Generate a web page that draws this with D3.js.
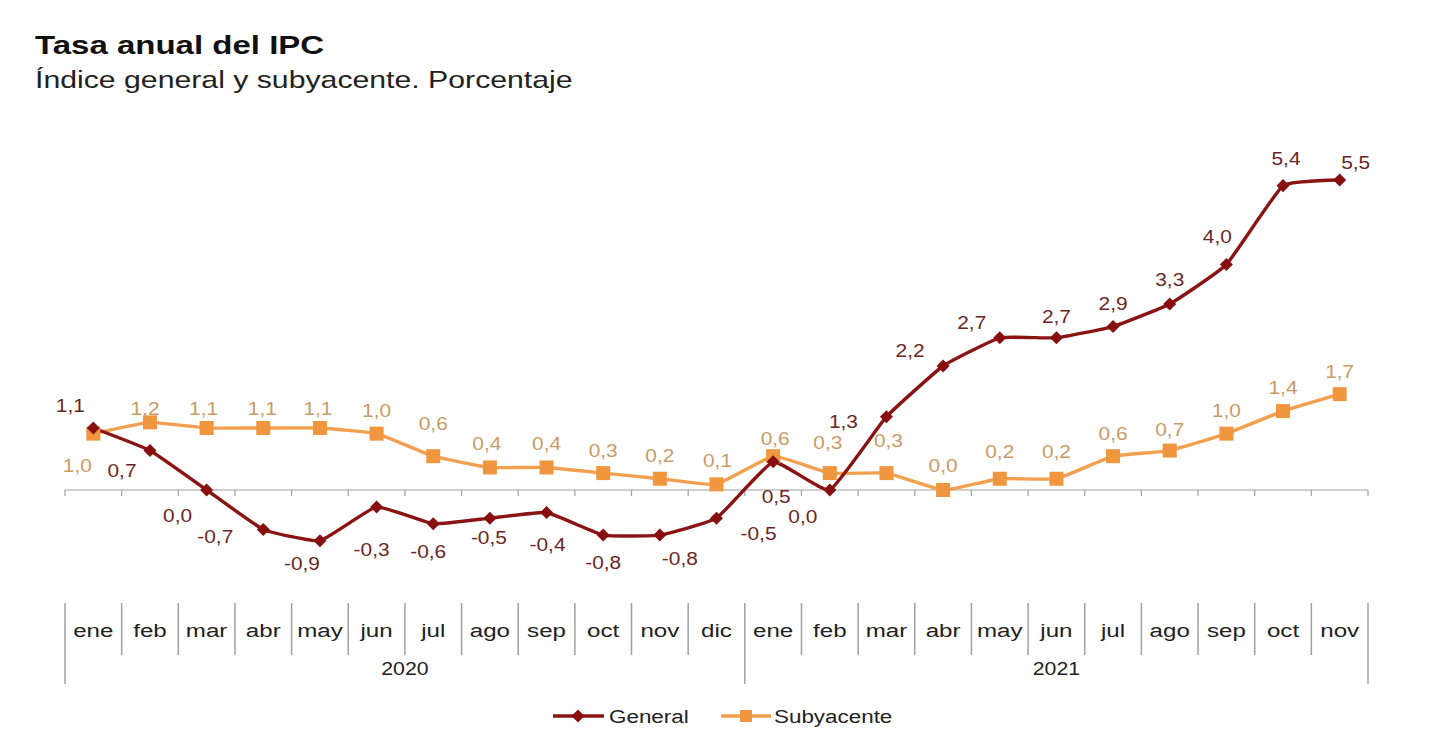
<!DOCTYPE html>
<html>
<head>
<meta charset="utf-8">
<script src="https://cdn.jsdelivr.net/npm/d3@7"></script>
<style>
  html, body { margin: 0; padding: 0; background: #fff; }
  svg { display: block; font-family: "Liberation Sans", Arial, sans-serif; }
</style>
</head>
<body>
<svg id="chart" width="1429" height="750"></svg>
<script>
// ---- Data ----
const months = ["ene","feb","mar","abr","may","jun","jul","ago","sep","oct","nov","dic",
                "ene","feb","mar","abr","may","jun","jul","ago","sep","oct","nov"];
const years = ["2020","2021"];
const yearOf = [0,0,0,0,0,0,0,0,0,0,0,0, 1,1,1,1,1,1,1,1,1,1,1];
const general = [1.1, 0.7, 0.0, -0.7, -0.9, -0.3, -0.6, -0.5, -0.4, -0.8, -0.8, -0.5,
                 0.5, 0.0, 1.3, 2.2, 2.7, 2.7, 2.9, 3.3, 4.0, 5.4, 5.5];
const subyacente = [1.0, 1.2, 1.1, 1.1, 1.1, 1.0, 0.6, 0.4, 0.4, 0.3, 0.2, 0.1,
                    0.6, 0.3, 0.3, 0.0, 0.2, 0.2, 0.6, 0.7, 1.0, 1.4, 1.7];

// label placement offsets (relative to the point)
const genLabelOff = [[-23,-23],[-28,19],[-29,25],[-48,7],[-18,22],[-5,42],[-5,27],[-1,19],[1,31],[0,27],[20,23],[42,15],
                     [3,34],[-27,26],[-43,4],[-33,-16],[-28,-16],[0,-22],[0,-24],[0,-25],[-9,-29],[3,-28],[16,-18]];
const subLabelOff = [[-16,31],[-5,-14],[-3,-20],[-1,-20],[-2,-20],[0,-24],[0,-33],[-3,-24],[0,-24],[0,-23],[0,-24],[1,-24],
                     [2,-18],[-2,-31],[2,-33],[0,-25],[0,-28],[0,-28],[0,-23],[0,-22],[0,-24],[0,-24],[0,-23]];

// ---- Layout ----
const svg = d3.select("#chart");
const colGen = "#8a1414", colGenLbl = "#6a2626";
const colSub = "#f2a04f", colSubLbl = "#c99a66";
const axisCol = "#a0a0a0";

const left = 65, right = 1368;
const idx = d3.range(months.length);
const xBand = d3.scaleBand().domain(idx).range([left, right]).paddingInner(0).paddingOuter(0);
const x = i => xBand(i) + xBand.bandwidth() / 2;
const y = d3.scaleLinear().domain([0, 5.5]).range([490, 180]);

const fmt = v => d3.format(".1f")(v).replace(".", ",").replace("−", "-");

// horizontally stretched text helper (reference is widened)
function stext(sel, tx, ty, sx) {
  return sel.attr("x", 0).attr("y", 0)
    .attr("transform", typeof tx === "function"
      ? (d, i) => `translate(${tx(d, i)},${ty(d, i)}) scale(${sx},1)`
      : `translate(${tx},${ty}) scale(${sx},1)`);
}

// Title
stext(svg.append("text"), 35, 54, 1.27).attr("font-size", 26).attr("font-weight", "bold")
  .attr("fill", "#111").text("Tasa anual del IPC");
stext(svg.append("text"), 35, 88, 1.26).attr("font-size", 24)
  .attr("fill", "#222").text("Índice general y subyacente. Porcentaje");

// Zero axis
svg.append("line").attr("x1", left).attr("x2", right).attr("y1", y(0)).attr("y2", y(0))
  .attr("stroke", axisCol).attr("stroke-width", 1.2);
const bounds = idx.map(i => xBand(i)).concat([right]);
svg.selectAll(".tick0").data(bounds).join("line")
  .attr("x1", d => d).attr("x2", d => d).attr("y1", y(0)).attr("y2", y(0) + 6)
  .attr("stroke", axisCol).attr("stroke-width", 1.2);

// Category table
const catTop = 603, catBot = 655, yearBot = 684;
svg.selectAll(".sep").data(bounds).join("line")
  .attr("x1", d => d).attr("x2", d => d)
  .attr("y1", catTop)
  .attr("y2", (d, i) => (i === 0 || i === bounds.length - 1 || (i < months.length && yearOf[i] !== yearOf[i - 1])) ? yearBot : catBot)
  .attr("stroke", axisCol).attr("stroke-width", 1.5);
stext(svg.selectAll(".mlab").data(idx).join("text"), i => x(i), () => 637, 1.27)
  .attr("text-anchor", "middle").attr("font-size", 19).attr("fill", "#222").text(i => months[i]);
years.forEach((yr, k) => {
  const members = idx.filter(i => yearOf[i] === k);
  const x0 = xBand(members[0]), x1 = xBand(members[members.length - 1]) + xBand.bandwidth();
  stext(svg.append("text"), (x0 + x1) / 2, 675, 1.12).attr("text-anchor", "middle")
    .attr("font-size", 19).attr("fill", "#222").text(yr);
});

// Lines
const line = d3.line().x((d, i) => x(i)).y(d => y(d)).curve(d3.curveCardinal.tension(0.65));
svg.append("path").datum(subyacente).attr("d", line).attr("fill", "none")
  .attr("stroke", colSub).attr("stroke-width", 3.4);
svg.append("path").datum(general).attr("d", line).attr("fill", "none")
  .attr("stroke", colGen).attr("stroke-width", 3.4);

// Markers
const sq = 14;
svg.selectAll(".sm").data(subyacente).join("rect")
  .attr("x", (d, i) => x(i) - sq / 2).attr("y", d => y(d) - sq / 2)
  .attr("width", sq).attr("height", sq).attr("fill", "#f0963f");
const diamond = d3.symbol().type(d3.symbolSquare).size(85);
svg.selectAll(".gm").data(general).join("path")
  .attr("d", diamond).attr("transform", (d, i) => `translate(${x(i)},${y(d)}) rotate(45)`)
  .attr("fill", "#870f10");

// Value labels
stext(svg.selectAll(".sl").data(subyacente).join("text"),
      (d, i) => x(i) + subLabelOff[i][0], (d, i) => y(d) + subLabelOff[i][1] + 7, 1.1)
  .attr("text-anchor", "middle").attr("font-size", 19).attr("fill", colSubLbl).text(d => fmt(d));
stext(svg.selectAll(".gl").data(general).join("text"),
      (d, i) => x(i) + genLabelOff[i][0], (d, i) => y(d) + genLabelOff[i][1] + 7, 1.1)
  .attr("text-anchor", "middle").attr("font-size", 19).attr("fill", colGenLbl).text(d => fmt(d));

// Legend
const lg = svg.append("g");
lg.append("line").attr("x1", 553).attr("x2", 604).attr("y1", 716).attr("y2", 716)
  .attr("stroke", colGen).attr("stroke-width", 3.4);
lg.append("path").attr("d", diamond).attr("transform", "translate(578,716) rotate(45)").attr("fill", "#870f10");
stext(lg.append("text"), 609, 723, 1.18).attr("font-size", 19).attr("fill", "#222").text("General");
lg.append("line").attr("x1", 721).attr("x2", 771).attr("y1", 716).attr("y2", 716)
  .attr("stroke", colSub).attr("stroke-width", 3.4);
lg.append("rect").attr("x", 746 - 6).attr("y", 716 - 6).attr("width", 12).attr("height", 12).attr("fill", "#f0963f");
stext(lg.append("text"), 774, 723, 1.18).attr("font-size", 19).attr("fill", "#222").text("Subyacente");
</script>
</body>
</html>
